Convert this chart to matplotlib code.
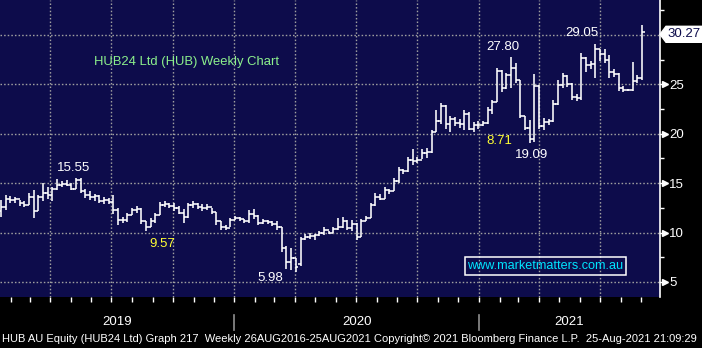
import matplotlib
matplotlib.use("Agg")
import matplotlib.pyplot as plt
import matplotlib.dates as mdates
from matplotlib.ticker import MultipleLocator
from matplotlib.patches import Polygon
from matplotlib.transforms import IdentityTransform
import pandas as pd

plt.rcParams["font.family"] = ["Liberation Sans", "DejaVu Sans"]

# weekly OHLC
first_week = "2019-01-17"
highs = [13.3, 13.8, 13.7, 13.6, 13.3, 13.2, 14.0, 14.3, 13.8, 15.0,
         14.6, 14.6, 15.4, 15.2, 15.3, 15.0, 15.5, 15.55, 14.4, 14.2,
         13.9, 13.8, 13.6, 13.5, 13.8, 12.5, 11.6, 12.0, 12.5, 12.7,
         12.5, 11.2, 11.5, 12.0, 13.1, 13.2, 13.0, 13.0, 12.7, 12.4,
         13.0, 13.2, 13.0, 12.9, 12.9, 12.5, 12.1, 11.2, 10.8, 11.5,
         11.7, 11.6, 11.4, 12.3, 12.4, 11.8, 11.4, 11.3, 11.2, 11.2,
         10.6, 8.6, 8.4, 7.4, 9.6, 9.9, 10.0, 9.9, 10.2, 10.6,
         10.2, 10.6, 11.5, 11.6, 11.3, 11.3, 11.0, 11.4, 11.7, 13.0,
         14.0, 13.9, 14.6, 14.4, 15.5, 16.6, 16.4, 17.6, 18.5, 17.6,
         18.5, 18.6, 20.4, 22.4, 23.1, 22.9, 21.8, 21.7, 21.5, 22.4,
         22.2, 21.2, 21.3, 21.3, 22.7, 23.4, 26.7, 26.5, 26.2, 27.8,
         27.2, 25.4, 21.8, 21.4, 26.0, 24.9, 21.6, 21.5, 23.4, 25.4,
         26.2, 25.9, 25.1, 24.0, 28.2, 27.8, 27.4, 29.05, 28.6, 28.6,
         28.0, 26.6, 26.2, 24.8, 24.5, 27.3, 25.9, 31.0]
lows = [11.6, 12.3, 13.0, 13.0, 12.7, 12.6, 12.8, 11.5, 12.2, 13.2,
        13.4, 13.2, 14.3, 14.6, 14.7, 14.3, 14.4, 14.0, 13.5, 13.3,
        13.2, 13.0, 12.9, 12.9, 11.9, 10.8, 11.0, 11.1, 11.8, 12.0,
        10.9, 10.2, 10.6, 11.0, 11.8, 12.6, 12.5, 12.2, 11.9, 11.0,
        11.5, 12.5, 12.4, 12.2, 12.3, 11.9, 10.8, 10.3, 10.3, 10.6,
        11.3, 11.2, 11.0, 11.0, 11.4, 10.8, 10.9, 10.9, 10.7, 10.3,
        8.0, 6.3, 6.2, 5.98, 6.6, 9.2, 9.4, 9.2, 9.7, 9.8,
        9.9, 10.0, 10.3, 10.5, 10.3, 10.2, 9.2, 9.6, 11.2, 11.5,
        12.7, 13.3, 13.4, 13.9, 14.2, 15.0, 15.9, 16.1, 16.8, 17.0,
        17.4, 17.5, 18.1, 20.2, 21.0, 20.5, 20.2, 20.8, 20.6, 20.4,
        20.4, 20.2, 20.5, 20.8, 21.0, 22.0, 23.2, 24.2, 24.5, 24.6,
        25.1, 21.6, 20.4, 19.09, 19.2, 20.5, 20.4, 20.9, 21.2, 22.9,
        24.6, 24.7, 23.4, 23.3, 23.4, 26.3, 26.6, 25.6, 27.4, 27.2,
        25.6, 25.7, 24.3, 24.2, 24.3, 24.3, 25.1, 25.4]
opens = [12.2, 12.6, 13.4, 13.3, 13.4, 13.0, 12.8, 13.6, 12.2, 13.6,
         14.0, 13.8, 14.4, 14.8, 14.9, 14.8, 14.4, 15.3, 14.2, 13.8,
         13.6, 13.7, 13.2, 13.3, 13.1, 12.3, 11.3, 11.3, 11.8, 12.3,
         12.4, 11.2, 10.6, 11.2, 11.8, 12.8, 12.9, 12.7, 12.5, 12.0,
         11.6, 12.8, 12.9, 12.6, 12.5, 12.6, 12.1, 11.2, 10.6, 10.5,
         11.3, 11.5, 11.4, 11.2, 11.9, 11.7, 11.0, 11.2, 11.1, 10.9,
         10.6, 8.4, 7.0, 7.4, 6.8, 9.4, 9.6, 9.7, 9.8, 10.0,
         10.3, 10.0, 10.4, 10.6, 11.2, 10.5, 10.9, 9.6, 11.2, 11.5,
         12.8, 13.6, 13.4, 14.3, 14.2, 15.2, 16.3, 16.2, 17.3, 17.2,
         17.3, 18.1, 18.2, 20.2, 21.3, 22.8, 21.0, 21.5, 21.1, 21.0,
         22.0, 20.5, 20.9, 20.9, 21.1, 22.4, 23.2, 26.4, 24.6, 25.9,
         26.7, 25.4, 21.8, 20.6, 19.5, 24.8, 20.8, 21.2, 21.3, 23.0,
         24.9, 25.8, 25.0, 23.7, 23.6, 27.7, 27.0, 27.1, 28.6, 28.1,
         27.5, 26.3, 26.1, 24.6, 24.4, 24.4, 25.3, 25.6]
closes = [12.6, 13.4, 13.3, 13.4, 13.0, 12.8, 13.6, 12.2, 13.6, 14.0,
          13.8, 14.4, 14.8, 14.9, 14.8, 14.4, 15.3, 14.2, 13.8, 13.6,
          13.7, 13.2, 13.3, 13.1, 12.3, 11.3, 11.3, 11.8, 12.3, 12.4,
          11.2, 10.6, 11.2, 11.8, 12.8, 12.9, 12.7, 12.5, 12.0, 11.6,
          12.8, 12.9, 12.6, 12.5, 12.6, 12.1, 11.2, 10.6, 10.5, 11.3,
          11.5, 11.4, 11.2, 11.9, 11.7, 11.0, 11.2, 11.1, 10.9, 10.6,
          8.4, 7.0, 7.4, 6.5, 9.4, 9.6, 9.7, 9.8, 10.0, 10.3,
          10.0, 10.4, 10.6, 11.2, 10.5, 10.9, 9.6, 11.2, 11.5, 12.8,
          13.6, 13.4, 14.3, 14.2, 15.2, 16.3, 16.2, 17.3, 17.2, 17.3,
          18.1, 18.2, 20.2, 21.3, 22.8, 21.0, 21.5, 21.1, 21.0, 22.0,
          20.5, 20.9, 20.9, 21.1, 22.4, 23.2, 26.4, 24.6, 25.9, 26.7,
          25.4, 21.8, 20.6, 19.5, 24.8, 20.8, 21.2, 21.3, 23.0, 24.9,
          25.8, 25.0, 23.7, 23.6, 27.7, 27.0, 27.1, 28.6, 28.1, 27.5,
          26.3, 26.1, 24.6, 24.4, 24.4, 25.3, 25.6, 30.27]

year_labels = ["2019", "2020", "2021"]
y_ticks = [5, 10, 15, 20, 25, 30]
y_labels = ["5", "10", "15", "20", "25", ""]  # 30 sits under the price tag

# (week position, price, text, colour) for the call-outs
callouts = [
    (15.5, 16.55, "15.55", "white"),
    (34.4, 8.85, "9.57", "#ffff33"),
    (57.5, 5.40, "5.98", "white"),
    (107.3, 28.75, "27.80", "white"),
    (106.4, 19.27, "8.71", "#ffff33"),
    (113.3, 17.85, "19.09", "white"),
    (124.2, 30.20, "29.05", "white"),
]

bg = "#0d0c4b"
grid_col = "#a0a0a0"

dates = pd.date_range(first_week, periods=len(closes), freq="7D")
x = mdates.date2num(dates)
d0 = x[0]

def week_pos(w):
    return d0 + w * 7

fig = plt.figure(figsize=(7.02, 3.48), dpi=100, facecolor="black")
ax = fig.add_axes([0, 51 / 348, 659.5 / 702, 297 / 348])
ax.set_facecolor(bg)

# OHLC bars
tick = 3.6
ax.vlines(x, lows, highs, color="white", lw=1.15)
ax.hlines(opens, x - tick, x, color="white", lw=1.15)
ax.hlines(closes, x, x + tick, color="white", lw=1.15)

ax.set_xlim(d0 - 1.5, d0 + 985)
ax.set_ylim(3.48, 33.54)

# axes / ticks
for s in ["left", "top", "bottom"]:
    ax.spines[s].set_visible(False)
ax.spines["right"].set_color("white")
ax.spines["right"].set_linewidth(1.2)

ax.xaxis.set_major_locator(mdates.MonthLocator(bymonth=[1, 4, 7, 10]))
ax.xaxis.set_minor_locator(mdates.MonthLocator())
ax.tick_params(axis="x", which="both", direction="out", length=3.5,
               color="white", width=1, labelbottom=False)

ax.yaxis.tick_right()
ax.set_yticks(y_ticks)
ax.set_yticklabels(y_labels)
ax.yaxis.set_minor_locator(MultipleLocator(2.5))
ax.tick_params(axis="y", which="major", length=0, pad=7,
               labelcolor="white", labelsize=9.5)
ax.tick_params(axis="y", which="minor", direction="out", length=3,
               color="white", width=1)

ax.grid(True, which="major", color=grid_col, lw=1.0,
        linestyle=(0, (1.1, 1.5)))

# little pointer flags on the price labels
ytr = ax.get_yaxis_transform()
for v, lab in zip(y_ticks, y_labels):
    if not lab:
        continue
    ax.plot([1.0, 1.009], [v, v], color="white", lw=1, transform=ytr,
            clip_on=False)
    ax.plot(1.009, v, marker=">", ms=4.5, color="white", mec="white",
            transform=ytr, clip_on=False)

# years in the black band
xtr = ax.get_xaxis_transform()
left, right = ax.get_xlim()
bounds = [left, mdates.datestr2num("2020-01-01"),
          mdates.datestr2num("2021-01-01"), right]
for i, lab in enumerate(year_labels):
    ax.text((bounds[i] + bounds[i + 1]) / 2, -0.084, lab, color="white",
            fontsize=9.5, ha="center", va="center", transform=xtr)
for b in bounds[1:3]:
    ax.plot([b, b], [-0.06, -0.112], color="#909090", lw=1.2,
            transform=xtr, clip_on=False)

# texts on the chart
ax.text(week_pos(19.9), 27.27, "HUB24 Ltd (HUB) Weekly Chart",
        color="#8cf08c", fontsize=9.4, ha="left", va="center")
for w, p, t, c in callouts:
    ax.text(week_pos(w), p, t, color=c, fontsize=9.5, ha="center", va="center")

ax.text(week_pos(116.3), 6.62, "www.marketmatters.com.au", color="#00e5ff",
        fontsize=9.1, ha="center", va="center",
        bbox=dict(boxstyle="square,pad=0.2", fc="none", ec="white", lw=1.1))

# last price tag
ypix = ax.transData.transform((right, closes[-1]))[1] - 2
tag = Polygon([(660, ypix), (666, ypix + 8), (702, ypix + 8),
               (702, ypix - 8), (666, ypix - 8)], closed=True,
              fc="white", ec="white", transform=IdentityTransform())
fig.patches.append(tag)
fig.text(684 / 702, ypix / 348, f"{closes[-1]:.2f}", color="#0d0c4b",
         fontsize=9.5, ha="center", va="center")

fig.text(0.003, 9 / 348,
         "HUB AU Equity (HUB24 Ltd) Graph 217  Weekly 26AUG2016-25AUG2021 "
         "Copyright\u00a9 2021 Bloomberg Finance L.P.  25-Aug-2021 21:09:29",
         color="white", fontsize=8.0, ha="left", va="center")

fig.savefig("out.png", dpi=100, facecolor="black")
